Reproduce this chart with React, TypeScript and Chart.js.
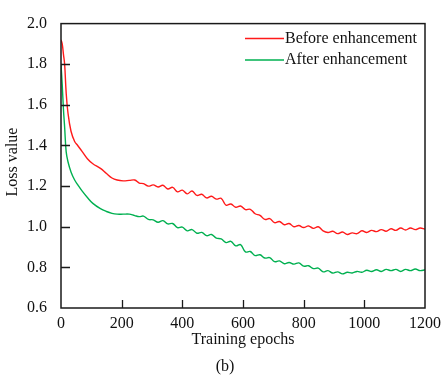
import React, { useEffect, useRef } from "react";
import { Chart, registerables } from "chart.js";

Chart.register(...registerables);

const epochs = [
  0, 4, 8, 12, 17, 23, 33, 45, 55, 70, 87, 105, 130, 150, 168, 185, 205, 225, 243, 258,
  272, 288, 304, 320, 336, 352, 368, 384, 400, 416,
  432, 448, 464, 480, 496, 512, 528, 544, 560, 576,
  592, 608, 624, 640, 656, 672, 688, 704, 720, 736,
  752, 768, 784, 800, 816, 832, 848, 864, 880, 896,
  912, 928, 944, 960, 976, 992, 1008, 1024, 1040, 1056,
  1072, 1088, 1104, 1120, 1136, 1152, 1168, 1184, 1200,
];

const beforeLoss = [
  1.92, 1.9, 1.85, 1.8, 1.66, 1.56, 1.47, 1.42, 1.4, 1.37, 1.335, 1.31, 1.287, 1.262, 1.24, 1.23, 1.226, 1.228, 1.23, 1.215,
  1.212, 1.2, 1.206, 1.196, 1.204, 1.186, 1.194, 1.172, 1.18, 1.162,
  1.176, 1.154, 1.16, 1.142, 1.15, 1.136, 1.14, 1.106, 1.112, 1.096,
  1.102, 1.084, 1.086, 1.064, 1.056, 1.036, 1.04, 1.02, 1.026, 1.01,
  1.016, 1.0, 1.006, 0.996, 1.004, 0.992, 1.0, 0.98, 0.972, 0.978,
  0.966, 0.974, 0.962, 0.97, 0.966, 0.98, 0.972, 0.982, 0.976, 0.986,
  0.978, 0.99, 0.982, 0.994, 0.984, 0.994, 0.986, 0.994, 0.988,
];

const afterLoss = [
  1.8, 1.7, 1.58, 1.49, 1.37, 1.32, 1.27, 1.23, 1.207, 1.175, 1.144, 1.115, 1.089, 1.075, 1.066, 1.062, 1.062, 1.062, 1.055, 1.05,
  1.052, 1.036, 1.034, 1.022, 1.03, 1.014, 1.016, 0.996, 0.998, 0.98,
  0.986, 0.968, 0.972, 0.956, 0.962, 0.944, 0.94, 0.922, 0.928, 0.906,
  0.912, 0.876, 0.878, 0.858, 0.862, 0.846, 0.848, 0.828, 0.832, 0.818,
  0.824, 0.816, 0.822, 0.806, 0.808, 0.794, 0.796, 0.778, 0.784, 0.772,
  0.778, 0.768, 0.776, 0.772, 0.78, 0.776, 0.786, 0.78, 0.788, 0.78,
  0.79, 0.784, 0.79, 0.78, 0.79, 0.784, 0.792, 0.784, 0.788,
];

const xTickValues = [0, 200, 400, 600, 800, 1000, 1200];
const yTickValues = [0.6, 0.8, 1.0, 1.2, 1.4, 1.6, 1.8, 2.0];

const seriesNames = ["Before enhancement", "After enhancement"];
const seriesColors = ["#ff1a1a", "#00b050"];
const xTitle = "Training epochs";
const yTitle = "Loss value";
const caption = "(b)";

const FONT = "'Liberation Serif', 'Times New Roman', serif";

const decorPlugin = {
  id: "decor",
  afterDraw(chart: any) {
    const { ctx, chartArea } = chart;
    const { left, right, top, bottom } = chartArea;
    const xs = chart.scales.x;
    const ys = chart.scales.y;
    ctx.save();
    ctx.strokeStyle = "#1a1a1a";
    ctx.lineWidth = 1.5;
    ctx.strokeRect(left, top, right - left, bottom - top);
    // inward ticks
    ctx.lineWidth = 1.3;
    ctx.beginPath();
    xTickValues.forEach((v) => {
      if (v === xTickValues[0] || v === xTickValues[xTickValues.length - 1]) return;
      const px = Math.round(xs.getPixelForValue(v)) + 0.5;
      ctx.moveTo(px, bottom);
      ctx.lineTo(px, bottom - 8);
    });
    yTickValues.forEach((v) => {
      if (v === yTickValues[0] || v === yTickValues[yTickValues.length - 1]) return;
      const py = Math.round(ys.getPixelForValue(v)) + 0.5;
      ctx.moveTo(left, py);
      ctx.lineTo(left + 9, py);
    });
    ctx.stroke();

    // titles
    ctx.fillStyle = "#111";
    ctx.font = `16px ${FONT}`;
    ctx.textAlign = "center";
    ctx.textBaseline = "middle";
    ctx.fillText(xTitle, (left + right) / 2, 340);
    ctx.fillText(caption, 225, 367);
    ctx.save();
    ctx.translate(13, 162);
    ctx.rotate(-Math.PI / 2);
    ctx.fillText(yTitle, 0, 0);
    ctx.restore();

    // legend
    const legendY = [38.5, 60];
    ctx.textAlign = "left";
    seriesNames.forEach((name, i) => {
      ctx.strokeStyle = seriesColors[i];
      ctx.lineWidth = 1.4;
      ctx.beginPath();
      ctx.moveTo(245, legendY[i]);
      ctx.lineTo(284, legendY[i]);
      ctx.stroke();
      ctx.fillStyle = "#111";
      ctx.fillText(name, 285, legendY[i]);
    });
    ctx.restore();
  },
};

export default function App() {
  const canvasRef = useRef<HTMLCanvasElement | null>(null);

  useEffect(() => {
    const canvas = canvasRef.current;
    if (!canvas) return;
    const mk = (vals: number[]) => epochs.map((x, i) => ({ x, y: vals[i] }));
    const chart = new Chart(canvas, {
      type: "line",
      data: {
        datasets: [
          {
            label: seriesNames[0],
            data: mk(beforeLoss),
            borderColor: seriesColors[0],
            borderWidth: 1.4,
            pointRadius: 0,
            fill: false,
            tension: 0.4,
          },
          {
            label: seriesNames[1],
            data: mk(afterLoss),
            borderColor: seriesColors[1],
            borderWidth: 1.4,
            pointRadius: 0,
            fill: false,
            tension: 0.4,
          },
        ],
      },
      options: {
        responsive: false,
        animation: false,
        devicePixelRatio: 1,
        layout: { padding: { left: 0, right: 19, top: 13, bottom: 0 } },
        plugins: {
          legend: { display: false },
          tooltip: { enabled: false },
        },
        scales: {
          x: {
            type: "linear",
            min: 0,
            max: 1200,
            afterFit: (s: any) => {
              s.height = 71;
            },
            afterBuildTicks: (s: any) => {
              s.ticks = xTickValues.map((v) => ({ value: v }));
            },
            grid: { display: true, drawOnChartArea: false, drawTicks: false },
            border: { display: false },
            ticks: {
              autoSkip: false,
              maxRotation: 0,
              padding: 6,
              color: "#111",
              font: { family: FONT, size: 16 },
              callback: (v: any) => String(v),
            },
          },
          y: {
            type: "linear",
            min: 0.6,
            max: 2.0,
            afterFit: (s: any) => {
              s.width = 61;
            },
            afterBuildTicks: (s: any) => {
              s.ticks = yTickValues.map((v) => ({ value: v }));
            },
            grid: { display: true, drawOnChartArea: false, drawTicks: false },
            border: { display: false },
            ticks: {
              padding: 14,
              color: "#111",
              font: { family: FONT, size: 16 },
              callback: (v: any) => Number(v).toFixed(1),
            },
          },
        },
      },
      plugins: [decorPlugin],
    });
    return () => chart.destroy();
  }, []);

  return (
    <div style={{ position: "absolute", left: 0, top: 0, width: 447, height: 379, background: "#fff" }}>
      <canvas ref={canvasRef} width={447} height={379} style={{ display: "block" }} />
    </div>
  );
}
